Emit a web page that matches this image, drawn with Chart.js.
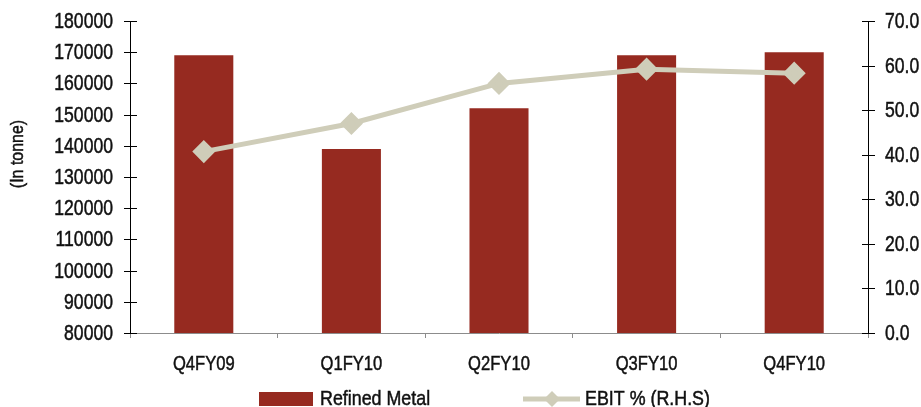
<!DOCTYPE html>
<html>
<head>
<meta charset="utf-8">
<script src="https://cdn.jsdelivr.net/npm/chart.js@4.4.1/dist/chart.umd.min.js"></script>
<style>
  html, body { margin: 0; padding: 0; background: #fff; }
  #wrap { width: 921px; height: 407px; }
</style>
</head>
<body>
<div id="wrap"><canvas id="metalChart" width="921" height="407"></canvas></div>
<script>
  // quarters, refined metal output (tonne) and EBIT margin (%)
  const quarters = ['Q4FY09', 'Q1FY10', 'Q2FY10', 'Q3FY10', 'Q4FY10'];
  const refinedMetal = [169000, 139000, 152000, 169000, 170000];
  const ebitPct = [40.7, 47.0, 56.0, 59.2, 58.3];
  const leftTicks = [80000, 180000, 10000];   // min, max, step
  const rightTicks = [0, 70, 10];

  const FONT = "'Liberation Sans', Arial, sans-serif";
  const BAR_COLOR = '#962a20';
  const LINE_COLOR = '#cfcdb9';
  const TEXT_COLOR = '#111111';

  // narrow text: regular sans squeezed horizontally, lightly stroked for weight
  function narrowText(ctx, text, x, y, size, align, sx = 0.8, rot = 0) {
    ctx.save();
    ctx.translate(x, y);
    if (rot) ctx.rotate(rot);
    ctx.scale(sx, 1);
    ctx.font = size + 'px ' + FONT;
    ctx.fillStyle = TEXT_COLOR;
    ctx.strokeStyle = TEXT_COLOR;
    ctx.lineWidth = 0.5;
    ctx.textAlign = align;
    ctx.textBaseline = 'middle';
    ctx.fillText(text, 0, 0);
    ctx.strokeText(text, 0, 0);
    ctx.restore();
  }

  // axis ticks crossing the axis line, plus all axis labels
  const axisDecor = {
    id: 'axisDecor',
    afterDraw(chart) {
      const ctx = chart.ctx;
      const area = chart.chartArea;
      ctx.save();
      ctx.strokeStyle = '#000';
      ctx.lineWidth = 1;
      ['y', 'y1'].forEach(id => {
        const s = chart.scales[id];
        const left = id === 'y';
        const x = left ? s.right : s.left;
        s.ticks.forEach(t => {
          const py = s.getPixelForValue(t.value);
          const ly = Math.round(py) + 0.5;
          ctx.beginPath();
          ctx.moveTo(x - 6, ly);
          ctx.lineTo(x + 7, ly);
          ctx.stroke();
          const txt = left ? String(t.value) : Number(t.value).toFixed(1);
          narrowText(ctx, txt, left ? x - 17 : x + 17, py + 1, 22, left ? 'right' : 'left', 0.8);
        });
      });
      ctx.restore();

      const xs = chart.scales.x;
      chart.data.labels.forEach((lab, i) => {
        narrowText(ctx, lab, xs.getPixelForValue(i), area.bottom + 31, 21, 'center', 0.79);
      });

      narrowText(ctx, '(In tonne)', 18, 154, 19, 'center', 0.84, -Math.PI / 2);
    }
  };

  // legend row under the category labels
  const bottomLegend = {
    id: 'bottomLegend',
    afterDraw(chart) {
      const ctx = chart.ctx;
      const y = 399;
      const bar = chart.data.datasets[1];
      const line = chart.data.datasets[0];
      ctx.save();

      let x = 259;
      ctx.fillStyle = bar.backgroundColor;
      ctx.fillRect(x, y - 7, 54, 14);
      narrowText(ctx, bar.label, x + 61, y, 21, 'left', 0.85);

      x = 523;
      ctx.strokeStyle = line.borderColor;
      ctx.lineWidth = 5;
      ctx.beginPath();
      ctx.moveTo(x, y);
      ctx.lineTo(x + 57, y);
      ctx.stroke();
      ctx.fillStyle = line.backgroundColor;
      ctx.beginPath();
      ctx.moveTo(x + 29, y - 8);
      ctx.lineTo(x + 37, y);
      ctx.lineTo(x + 29, y + 8);
      ctx.lineTo(x + 21, y);
      ctx.closePath();
      ctx.fill();
      narrowText(ctx, line.label, x + 62, y, 21, 'left', 0.85);
      ctx.restore();
    }
  };

  new Chart(document.getElementById('metalChart'), {
    data: {
      labels: quarters,
      datasets: [
        {
          type: 'line',
          label: 'EBIT % (R.H.S)',
          data: ebitPct,
          yAxisID: 'y1',
          borderColor: LINE_COLOR,
          backgroundColor: LINE_COLOR,
          borderWidth: 5,
          pointStyle: 'rectRot',
          pointRadius: 8,
          pointHoverRadius: 8,
          tension: 0,
          order: 0
        },
        {
          type: 'bar',
          label: 'Refined Metal',
          data: refinedMetal,
          yAxisID: 'y',
          backgroundColor: BAR_COLOR,
          barPercentage: 0.4,
          categoryPercentage: 1,
          order: 1
        }
      ]
    },
    options: {
      responsive: false,
      animation: false,
      layout: { padding: { top: 21, bottom: 0, left: 0, right: 0 } },
      plugins: {
        legend: { display: false },
        tooltip: { enabled: false }
      },
      scales: {
        x: {
          offset: true,
          grid: {
            display: true,
            offset: true,
            drawOnChartArea: false,
            drawTicks: true,
            tickLength: 5,
            color: '#8c8c8c'
          },
          border: { display: true, color: '#8c8c8c', width: 1 },
          ticks: { display: false },
          afterFit: s => { s.height = 74; }
        },
        y: {
          position: 'left',
          min: leftTicks[0],
          max: leftTicks[1],
          grid: { display: false, drawTicks: false },
          border: { display: true, color: '#000', width: 1 },
          ticks: { stepSize: leftTicks[2], display: false },
          afterFit: s => { s.width = 130; }
        },
        y1: {
          position: 'right',
          min: rightTicks[0],
          max: rightTicks[1],
          grid: { display: false, drawTicks: false },
          border: { display: true, color: '#000', width: 1 },
          ticks: { stepSize: rightTicks[2], display: false },
          afterFit: s => { s.width = 53; }
        }
      }
    },
    plugins: [axisDecor, bottomLegend]
  });
</script>
</body>
</html>
